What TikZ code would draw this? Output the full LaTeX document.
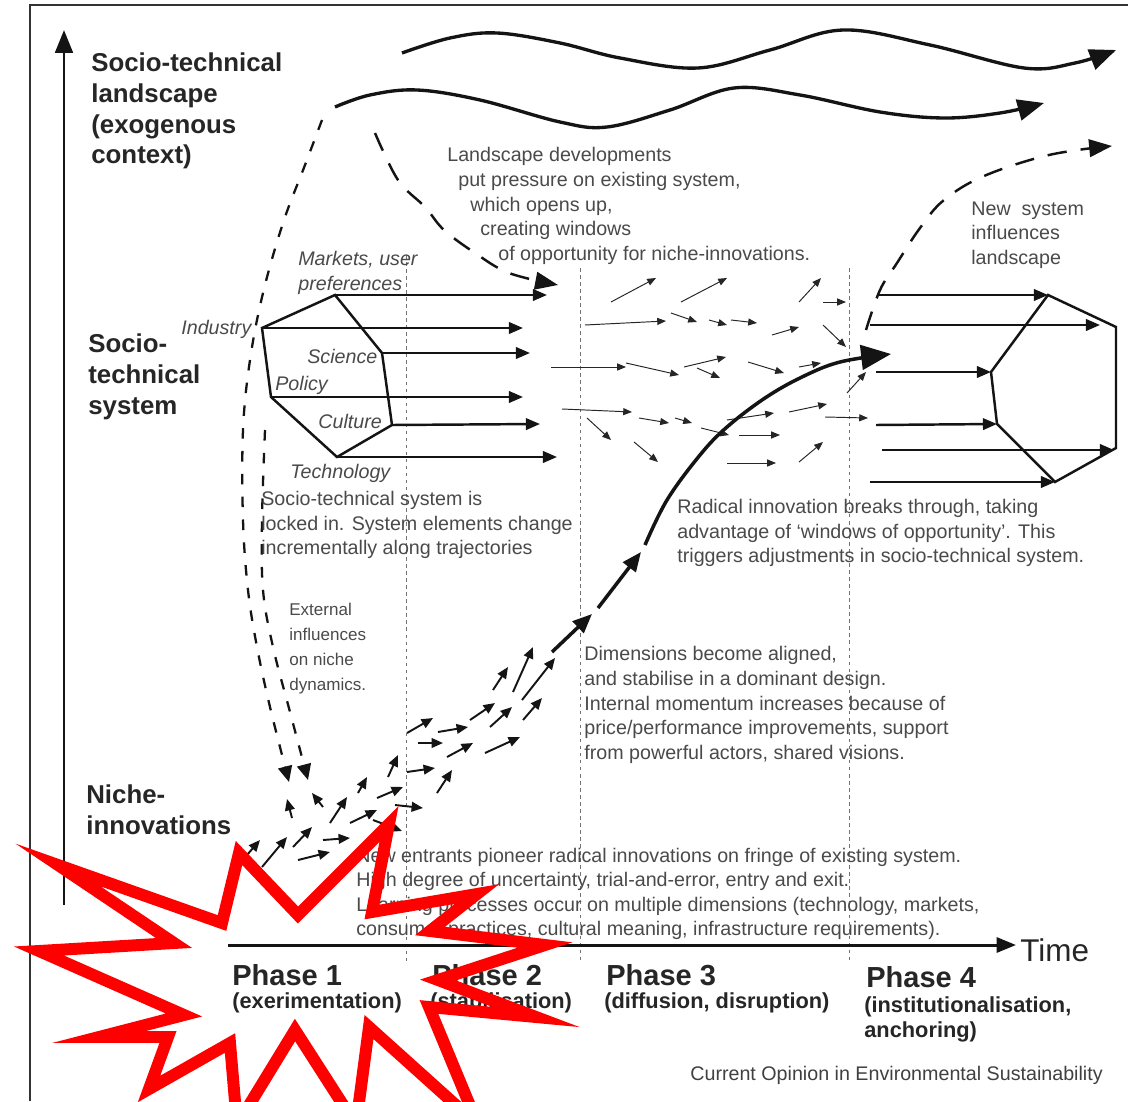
\documentclass[tikz,border=0pt]{standalone}
\usepackage{fontspec}
\setmainfont{Liberation Sans}
\usetikzlibrary{arrows.meta}
\definecolor{txt}{HTML}{4A4A4A}
\definecolor{lab}{HTML}{262626}
\definecolor{ink}{HTML}{141414}
\begin{document}
\begin{tikzpicture}[x=0.02cm,y=-0.02cm,
  lbl/.style={anchor=west,inner sep=0pt,align=left,text=lab,font=\fontsize{14.7}{17.5}\selectfont\bfseries},
  body/.style={anchor=west,inner sep=0pt,align=left,text=txt,font=\fontsize{11.2}{14}\selectfont},
  ital/.style={anchor=west,inner sep=0pt,align=left,text=txt,font=\fontsize{11.2}{14.2}\selectfont\itshape},
  small/.style={anchor=west,inner sep=0pt,align=left,text=txt,font=\fontsize{9.7}{14.2}\selectfont},
  phase/.style={anchor=west,inner sep=0pt,text=lab,font=\fontsize{16.5}{19}\selectfont\bfseries},
  phasesub/.style={anchor=west,inner sep=0pt,align=left,text=lab,font=\fontsize{12.4}{14.2}\selectfont\bfseries},
  harr/.style={ink,line width=1.4pt,-{Triangle[length=8pt,width=6.5pt]}},
  poly/.style={ink,line width=1.4pt,line join=miter},
  thinarr/.style={black!85,line width=0.55pt,-{Triangle[length=5pt,width=4pt]}},
  nicharr/.style={ink,line width=1.1pt,-{Triangle[length=6.5pt,width=5.5pt]}},
  wavearr/.style={ink,line width=1.9pt,-{Triangle[length=15pt,width=12pt]}},
  phaseline/.style={black!55,line width=0.4pt,dash pattern=on 2pt off 2pt},
]
\useasboundingbox (0,0) rectangle (1128,1101);
\fill[white] (0,0) rectangle (1128,1101);

% frame
\draw[black!80,line width=1.2pt] (30,1101) -- (30,5) -- (1128,5);

% phase boundaries
\draw[phaseline] (406,255) -- (406,962);
\draw[phaseline] (580,268) -- (580,962);
\draw[phaseline] (849,268) -- (849,962);

% axes
\coordinate (yb) at (64,905);
\coordinate (yt) at (64,30);
\draw[ink,line width=1.7pt,-{Triangle[length=13pt,width=10pt]}] (yb) -- (yt);
\coordinate (tb) at (228,945);
\coordinate (te) at (1016,945);
\draw[ink,line width=1.7pt,-{Triangle[length=11pt,width=8.5pt]}] (tb) -- (te);

% landscape waves
\draw[wavearr] plot[smooth,tension=0.6] coordinates {(402,53) (450,38) (497,33) (560,43) (620,58) (698,68) (770,50) (843,30) (930,45) (1024,68) (1075,63) (1116,50)};
\draw[wavearr] plot[smooth,tension=0.6] coordinates {(335,107) (370,95) (417,90) (480,100) (560,122) (607,127) (670,110) (734,88) (800,95) (880,112) (944,118) (1000,113) (1044,103)};

% dashed influences
\draw[ink,line width=1.4pt,dash pattern=on 11pt off 8pt,-{Triangle[length=13pt,width=10pt]}] plot[smooth,tension=0.6] coordinates {(375,133) (398,180) (425,207) (444,230) (475,253) (509,273) (558,285)};
\draw[ink,line width=1.3pt,dash pattern=on 6pt off 7pt,-{Triangle[length=9pt,width=8pt]}] plot[smooth,tension=0.6] coordinates {(322,120) (305,165) (283,223) (263,293) (250,360) (243,430) (243,520) (248,590) (257,647) (270,707) (289,782)};
\draw[ink,line width=1.3pt,dash pattern=on 6pt off 7pt,-{Triangle[length=9pt,width=8pt]}] plot[smooth,tension=0.6] coordinates {(265,430) (262,520) (263,590) (273,647) (290,712) (308,780)};
\draw[ink,line width=1.4pt,dash pattern=on 11pt off 8pt,-{Triangle[length=13pt,width=10pt]}] plot[smooth,tension=0.6] coordinates {(866,330) (880,290) (897,263) (920,228) (944,200) (984,176) (1049,155) (1112,146)};

% left socio-technical system polygon
\coordinate (LI) at (262,328);
\coordinate (LT) at (335,295);
\coordinate (LS) at (382,353);
\coordinate (LC) at (392,425);
\coordinate (LB) at (337,457);
\coordinate (LP) at (271,397);
\draw[poly] (LI) -- (LT) -- (LS) -- (LC) -- (LB) -- (LP) -- cycle;
\draw[harr] (LT) -- (547,295);
\draw[harr] (LI) -- (523,328);
\draw[harr] (LS) -- (530,353);
\draw[harr] (LP) -- (523,397);
\draw[harr] (LC) -- (540,424);
\draw[harr] (LB) -- (557,457);

% right new system polygon
\coordinate (RT) at (1048,295);
\coordinate (RA) at (1116,327);
\coordinate (RB) at (1116,448);
\coordinate (RC) at (1055,482);
\coordinate (RD) at (997,424);
\coordinate (RE) at (991,372);
\draw[poly] (RT) -- (RA) -- (RB) -- (RC) -- (RD) -- (RE) -- cycle;
\draw[harr] (878,295) -- (RT);
\draw[harr] (870,325) -- (1100,325);
\draw[harr] (876,372) -- (RE);
\draw[harr] (876,425) -- (RD);
\draw[harr] (882,450) -- (1114,450);
\draw[harr] (870,482) -- (RC);

% phase 3 scattered arrows
\foreach \a/\b/\c/\d in {611/302/656/278, 681/302/727/278, 799/302/821/278, 823/302/846/302,
  585/325/666/321, 671/313/697/322, 709/320/727/325, 731/320/757/323, 772/335/799/327, 823/325/846/347,
  551/367/626/367, 626/363/679/375, 684/367/726/357, 697/368/720/378, 748/362/784/373, 799/367/821/363,
  847/393/866/372, 562/409/632/412, 587/418/611/440, 639/418/669/423, 675/418/692/423, 701/428/729/435,
  727/420/774/413, 789/412/827/404, 825/417/868/418, 739/435/780/435, 634/442/658/462, 727/463/776/463,
  799/462/823/442}
  \draw[thinarr] (\a,\b) -- (\c,\d);

% niche arrows
\foreach \a/\b/\c/\d in {493/690/508/667, 513/692/533/647, 522/700/555/658, 470/720/495/703, 490/727/512/707,
  523/720/542/698, 438/732/468/727, 407/733/433/718, 418/743/443/743, 447/757/473/743, 485/753/520/737,
  407/772/435/768, 388/777/398/755, 437/793/452/770, 377/798/403/787, 395/805/423/808, 330/823/347/797,
  350/823/377/810, 358/793/367/777, 292/818/287/799, 323/807/312/793, 373/820/402/831, 293/847/312/827,
  323/840/350/838, 262/867/287/837, 298/860/330/852, 240/863/260/840}
  \draw[nicharr] (\a,\b) -- (\c,\d);

% radical innovation trajectory
\draw[ink,line width=2pt,-{Triangle[length=11pt,width=9pt]}] (552,652) -- (592,614);
\draw[ink,line width=2pt,-{Triangle[length=11pt,width=9pt]}] (598,608) -- (641,552);
\draw[ink,line width=2pt,-{Triangle[length=17pt,width=14pt]}] plot[smooth,tension=0.6] coordinates {(645,545) (667,500) (700,455) (727,427) (765,398) (802,377) (840,362) (891,354)};

% left labels
\node[lbl] (land) at (91,111) {Socio-technical\\landscape\\(exogenous\\context)};
\node[lbl] (sys) at (88,377) {Socio-\\technical\\system};
\node[lbl] (niche) at (86,810) {Niche-\\innovations};

% italic element labels
\node[ital] (mkt) at (298,273) {Markets, user\\preferences};
\node[ital] (ind) at (181,329) {Industry};
\node[ital] (sci) at (307,356) {Science};
\node[ital] (pol) at (275,385) {Policy};
\node[ital] (cul) at (318,421) {Culture};
\node[ital] (tec) at (290,473) {Technology};

% landscape text
\node[body] (ld1) at (447,156) {Landscape developments};
\node[body] (ld2) at (458,181) {put pressure on existing system,};
\node[body] (ld3) at (470,206) {which opens up,};
\node[body] (ld4) at (480,230) {creating windows};
\node[body] (ld5) at (498,255) {of opportunity for niche-innovations.};

\node[body] (newsys) at (971,235) {New \ system\\influences\\landscape};
\node[body] (locked) at (261,525) {Socio-technical system is\\locked in. System elements change\\incrementally along trajectories};
\node[body] (radical) at (677,533) {Radical innovation breaks through, taking\\advantage of `windows of opportunity'. This\\triggers adjustments in socio-technical system.};
\node[body] (dims) at (584,705) {Dimensions become aligned,\\and stabilise in a dominant design.\\Internal momentum increases because of\\price/performance improvements, support\\from powerful actors, shared visions.};
\node[body] (entrants) at (356,894) {New entrants pioneer radical innovations on fringe of existing system.\\High degree of uncertainty, trial-and-error, entry and exit.\\Learning processes occur on multiple dimensions (technology, markets,\\consumer practices, cultural meaning, infrastructure requirements).};
\node[small] (ext) at (289,649) {External\\influences\\on niche\\dynamics.};

% phases
\node[phase] (p1) at (232,975) {Phase 1};
\node[phasesub] (p1s) at (232,1003) {(exerimentation)};
\node[phase] (p2) at (432,975) {Phase 2};
\node[phasesub] (p2s) at (430,1003) {(stabilisation)};
\node[phase] (p3) at (606,975) {Phase 3};
\node[phasesub] (p3s) at (604,1003) {(diffusion, disruption)};
\node[phase] (p4) at (866,977) {Phase 4};
\node[phasesub] (p4s) at (864,1019) {(institutionalisation,\\anchoring)};
\node[anchor=west,inner sep=0pt,text=lab,font=\fontsize{17.9}{20}\selectfont] (time) at (1020,950) {Time};
\node[anchor=west,inner sep=0pt,text=black!75,font=\fontsize{11.2}{14}\selectfont] (src) at (690,1075) {Current Opinion in Environmental Sustainability};

% red starburst overlay (outline only)
\draw[red,line width=6.8pt,line join=miter,miter limit=40]
  (58,865) -- (222,923) -- (239,853) -- (298,915) -- (389,824) -- (372,912) -- (477,894)
  -- (430,931) -- (545,945) -- (438,980) -- (536,1017) -- (429,1007) -- (478,1125)
  -- (369,1027) -- (356,1125) -- (295,1030) -- (237,1125) -- (230,1043) -- (149,1089)
  -- (168,1037) -- (99,1037) -- (184,1015) -- (39,951) -- (174,943) -- cycle;
\end{tikzpicture}
\end{document}
